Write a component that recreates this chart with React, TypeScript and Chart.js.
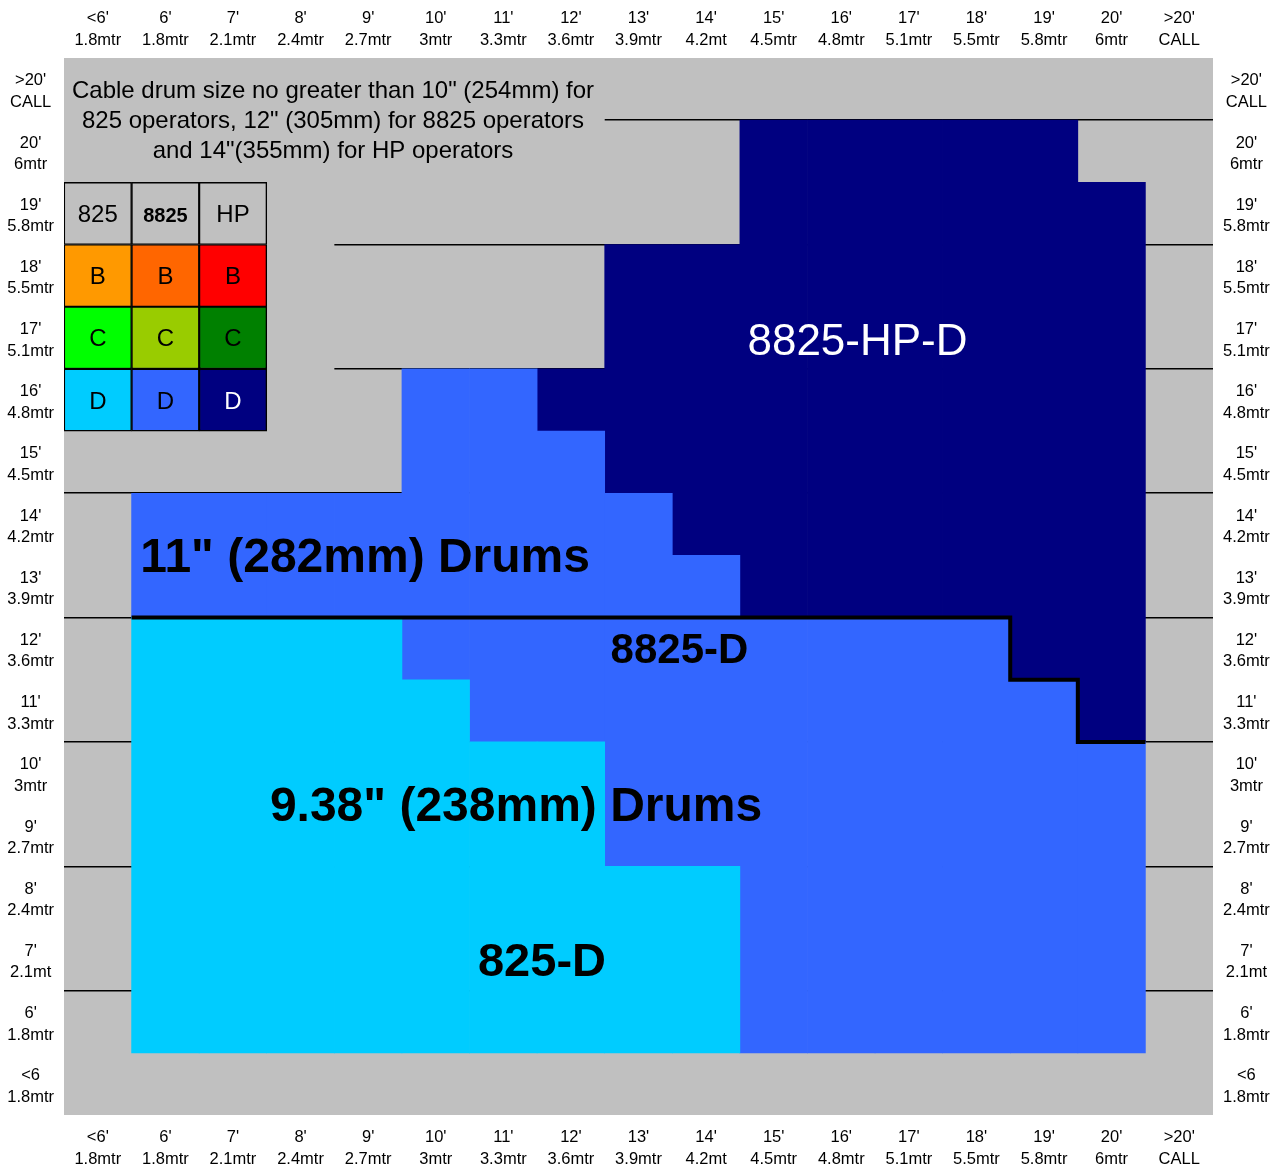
import React, { useEffect, useRef } from 'react';
import { Chart, registerables } from 'chart.js';

Chart.register(...registerables);

const FONT = "'Liberation Sans', Arial, Helvetica, sans-serif";

// Column categories (left to right)
const columnLabels = [
  ["<6'", '1.8mtr'], ["6'", '1.8mtr'], ["7'", '2.1mtr'], ["8'", '2.4mtr'], ["9'", '2.7mtr'],
  ["10'", '3mtr'], ["11'", '3.3mtr'], ["12'", '3.6mtr'], ["13'", '3.9mtr'], ["14'", '4.2mt'],
  ["15'", '4.5mtr'], ["16'", '4.8mtr'], ["17'", '5.1mtr'], ["18'", '5.5mtr'], ["19'", '5.8mtr'],
  ["20'", '6mtr'], [">20'", 'CALL'],
];

// Row categories (bottom to top)
const rowLabels = [
  ['<6', '1.8mtr'], ["6'", '1.8mtr'], ["7'", '2.1mt'], ["8'", '2.4mtr'], ["9'", '2.7mtr'],
  ["10'", '3mtr'], ["11'", '3.3mtr'], ["12'", '3.6mtr'], ["13'", '3.9mtr'], ["14'", '4.2mtr'],
  ["15'", '4.5mtr'], ["16'", '4.8mtr'], ["17'", '5.1mtr'], ["18'", '5.5mtr'], ["19'", '5.8mtr'],
  ["20'", '6mtr'], [">20'", 'CALL'],
];

// Row spans [from, to] per column (row index units)
const span825D = [null, [1, 8], [1, 8], [1, 8], [1, 8], [1, 7], [1, 6], [1, 6], [1, 4], [1, 4], null, null, null, null, null, null, null];
const span8825D = [null, [8, 10], [8, 10], [8, 10], [8, 10], [7, 12], [6, 12], [6, 11], [4, 10], [4, 9], [1, 8], [1, 8], [1, 8], [1, 8], [1, 7], [1, 6], null];
const span8825HPD = [null, null, null, null, null, null, null, [11, 12], [10, 14], [9, 14], [8, 16], [8, 16], [8, 16], [8, 16], [7, 16], [6, 15], null];

// Boundary between 11" and 9.38" drums (column edge, row edge)
const boundaryStep = [
  { x: 1, y: 8 }, { x: 14, y: 8 }, { x: 14, y: 7 }, { x: 15, y: 7 }, { x: 15, y: 6 }, { x: 16, y: 6 },
];

// Legend table
const legendHeaders = ['825', '8825', 'HP'];
const legendGrades = ['B', 'C', 'D'];
const legendHeaderSpan = [14, 15];
const legendGradeSpans = [[13, 14], [12, 13], [11, 12]];
const legendColorsB = ['#ff9900', '#ff6600', '#ff0000'];
const legendColorsC = ['#00ff00', '#99cc00', '#008000'];
const legendColorsD = ['#00ccff', '#3366ff', '#000080'];

const noteLines = [
  'Cable drum size no greater than 10" (254mm) for',
  '825 operators, 12" (305mm) for 8825 operators',
  'and 14"(355mm) for HP operators',
];

const GRAY = '#c0c0c0';
const N = columnLabels.length;
const fillCols = (cols: number[], span: number[]) =>
  Array.from({ length: N }, (_, i) => (cols.includes(i) ? span : null));

const bgPlugin = {
  id: 'bgPlugin',
  beforeDraw(chart: any) {
    const { ctx, chartArea: a } = chart;
    ctx.save();
    ctx.fillStyle = GRAY;
    ctx.fillRect(a.left, a.top, a.right - a.left, a.bottom - a.top);
    ctx.restore();
  },
};

const coverPlugin = {
  id: 'coverPlugin',
  beforeDatasetsDraw(chart: any) {
    const { ctx } = chart;
    const xs = chart.scales.xl;
    const ys = chart.scales.y;
    const boxes = [
      [0, 8, 15, 17],
      [0, 4, 10.15, 15],
    ];
    ctx.save();
    ctx.fillStyle = GRAY;
    boxes.forEach(([x0, x1, y0, y1]) => {
      const l = xs.getPixelForValue(x0);
      const r = xs.getPixelForValue(x1);
      const t = ys.getPixelForValue(y1);
      const b = ys.getPixelForValue(y0);
      ctx.fillRect(l, t, r - l, b - t);
    });
    ctx.restore();
  },
};

const textPlugin = {
  id: 'textPlugin',
  afterDatasetsDraw(chart: any) {
    const { ctx } = chart;
    const xs = chart.scales.xl;
    const ys = chart.scales.y;
    const put = (text: string, x: number, y: number, font: string, color: string, align: CanvasTextAlign) => {
      ctx.font = font;
      ctx.fillStyle = color;
      ctx.textAlign = align;
      ctx.textBaseline = 'alphabetic';
      ctx.fillText(text, xs.getPixelForValue(x), ys.getPixelForValue(y));
    };
    ctx.save();
    // note
    noteLines.forEach((line, i) => {
      ctx.font = `24px ${FONT}`;
      ctx.fillStyle = '#000';
      ctx.textAlign = 'center';
      ctx.textBaseline = 'alphabetic';
      ctx.fillText(line, xs.getPixelForValue(3.98), ys.getPixelForValue(16.35) + i * 29.7);
    });
    // legend
    legendHeaders.forEach((h, i) => {
      put(h, i + 0.5, legendHeaderSpan[0] + 0.36, h === '8825' ? `bold 20px ${FONT}` : `24px ${FONT}`, '#000', 'center');
    });
    legendGradeSpans.forEach((sp, r) => {
      for (let c = 0; c < 3; c++) {
        const white = legendGrades[r] === 'D' && c === 2;
        put(legendGrades[r], c + 0.5, sp[0] + 0.36, `24px ${FONT}`, white ? '#fff' : '#000', 'center');
      }
    });
    // region labels
    put('8825-HP-D', 11.74, 12.22, `44px ${FONT}`, '#fff', 'center');
    put('11" (282mm) Drums', 1.13, 8.73, `bold 48px ${FONT}`, '#000', 'left');
    put('8825-D', 9.106, 7.27, `bold 42px ${FONT}`, '#000', 'center');
    put('9.38" (238mm) Drums', 10.33, 4.733, `bold 48px ${FONT}`, '#000', 'right');
    put('825-D', 7.072, 2.23, `bold 47px ${FONT}`, '#000', 'center');
    ctx.restore();
  },
};

const tickFont = { family: FONT, size: 16.5, lineHeight: 1.3 };
const fullTicks = Array.from({ length: 35 }, (_, i) => ({ value: i / 2 }));
const halfTicks = Array.from({ length: 17 }, (_, i) => ({ value: i + 0.5 }));
const rowLabelFor = (v: number) => {
  const f = Math.floor(v);
  return Math.abs(v - f - 0.5) < 1e-6 ? rowLabels[f] : '';
};

export default function App() {
  const ref = useRef<HTMLCanvasElement | null>(null);

  useEffect(() => {
    if (!ref.current) return;
    const barBase = {
      type: 'bar' as const,
      xAxisID: 'x',
      yAxisID: 'y',
      categoryPercentage: 1,
      barPercentage: 1,
      grouped: false,
      borderSkipped: false as const,
    };
    const legendCols = [0, 1, 2];
    const chart = new Chart(ref.current, {
      type: 'bar',
      data: {
        labels: columnLabels as any,
        datasets: [
          {
            type: 'line',
            label: 'boundary',
            data: boundaryStep as any,
            xAxisID: 'xl',
            yAxisID: 'y',
            borderColor: '#000',
            borderWidth: 4,
            pointRadius: 0,
            fill: false,
            tension: 0,
            borderJoinStyle: 'miter',
            borderCapStyle: 'butt',
            order: 0,
          } as any,
          { ...barBase, label: 'legend header', data: fillCols(legendCols, legendHeaderSpan) as any, backgroundColor: GRAY, borderColor: '#000', borderWidth: 1.4, order: 1 },
          { ...barBase, label: 'legend B', data: fillCols(legendCols, legendGradeSpans[0]) as any, backgroundColor: legendColorsB, borderColor: '#000', borderWidth: 1.4, order: 1 },
          { ...barBase, label: 'legend C', data: fillCols(legendCols, legendGradeSpans[1]) as any, backgroundColor: legendColorsC, borderColor: '#000', borderWidth: 1.4, order: 1 },
          { ...barBase, label: 'legend D', data: fillCols(legendCols, legendGradeSpans[2]) as any, backgroundColor: legendColorsD, borderColor: '#000', borderWidth: 1.4, order: 1 },
          { ...barBase, label: '825-D', data: span825D as any, backgroundColor: '#00ccff', borderWidth: 0, order: 2 },
          { ...barBase, label: '8825-D', data: span8825D as any, backgroundColor: '#3366ff', borderWidth: 0, order: 2 },
          { ...barBase, label: '8825-HP-D', data: span8825HPD as any, backgroundColor: '#000080', borderWidth: 0, order: 2 },
        ] as any,
      },
      options: {
        animation: false,
        responsive: true,
        maintainAspectRatio: false,
        layout: { padding: 0 },
        plugins: { legend: { display: false }, tooltip: { enabled: false } },
        scales: {
          x: {
            type: 'category',
            position: 'top',
            offset: true,
            grid: { display: false, drawTicks: false },
            border: { display: false },
            ticks: { autoSkip: false, maxRotation: 0, minRotation: 0, padding: 7, font: tickFont, color: '#000' },
            afterFit: (s: any) => { s.height = 58; },
          },
          x2: {
            type: 'category',
            position: 'bottom',
            labels: columnLabels as any,
            offset: true,
            grid: { display: false, drawTicks: false },
            border: { display: false },
            ticks: { autoSkip: false, maxRotation: 0, minRotation: 0, padding: 12, font: tickFont, color: '#000' },
            afterFit: (s: any) => { s.height = 52; },
          },
          xl: { type: 'linear', min: 0, max: 17, offset: false, grid: { offset: false }, display: false },
          y: {
            type: 'linear',
            position: 'left',
            min: 0,
            max: 17,
            afterBuildTicks: (s: any) => { s.ticks = fullTicks.map((t) => ({ ...t })); },
            ticks: {
              autoSkip: false,
              padding: 10,
              labelOffset: 2.5,
              crossAlign: 'center',
              font: tickFont,
              color: '#000',
              callback: (v: any) => rowLabelFor(Number(v)) as any,
            },
            grid: {
              drawTicks: false,
              lineWidth: 1.5,
              color: (c: any) => {
                const v = c.tick ? c.tick.value : -1;
                return v > 0 && v < 17 && Math.abs(v % 2) < 1e-6 ? '#000' : 'rgba(0,0,0,0)';
              },
            },
            border: { display: false },
            afterFit: (s: any) => { s.width = 64; },
          },
          yr: {
            type: 'linear',
            position: 'right',
            min: 0,
            max: 17,
            afterBuildTicks: (s: any) => { s.ticks = halfTicks.map((t) => ({ ...t })); },
            ticks: {
              autoSkip: false,
              padding: 10,
              labelOffset: 2.5,
              crossAlign: 'center',
              font: tickFont,
              color: '#000',
              callback: (v: any) => rowLabelFor(Number(v)) as any,
            },
            grid: { display: false, drawTicks: false },
            border: { display: false },
            afterFit: (s: any) => { s.width = 65; },
          },
        } as any,
      },
      plugins: [bgPlugin, coverPlugin, textPlugin],
    });
    return () => chart.destroy();
  }, []);

  return (
    <div style={{ position: 'absolute', left: 0, top: 0, width: 1278, height: 1167, background: '#fff' }}>
      <canvas ref={ref} />
    </div>
  );
}
